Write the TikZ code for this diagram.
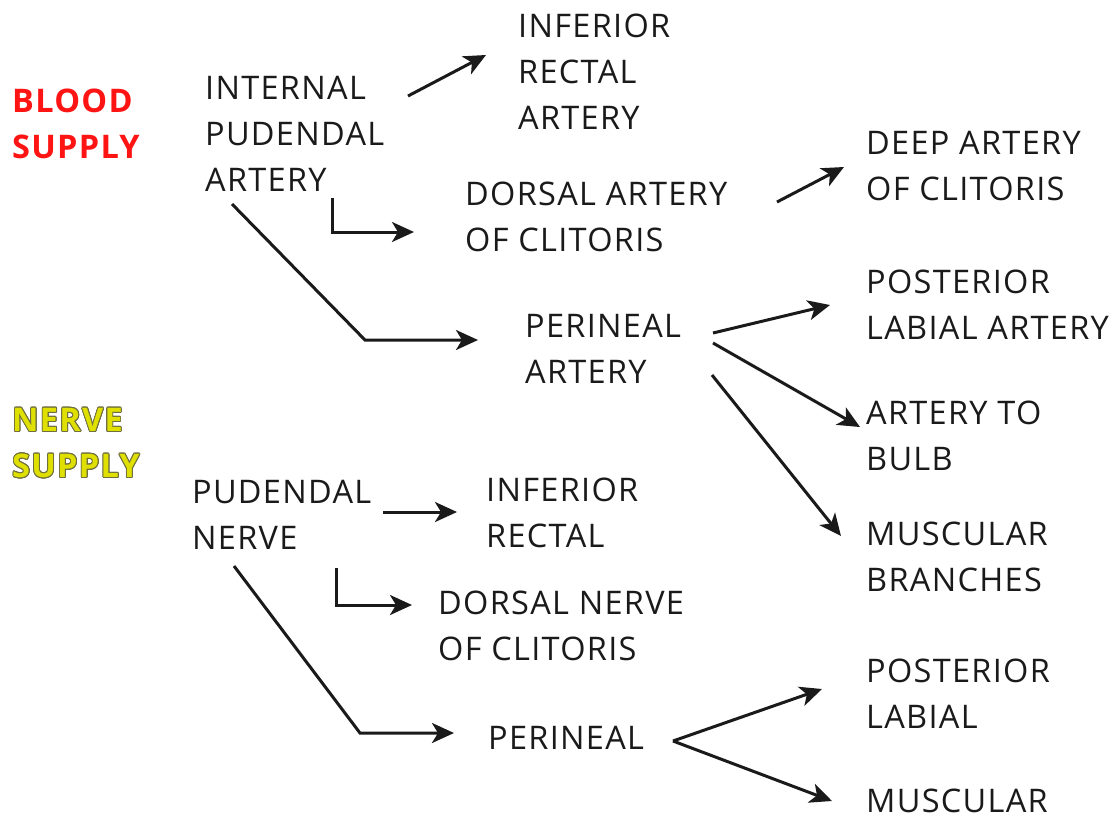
\documentclass[tikz,border=0pt]{standalone}
\usepackage{fontspec}
\setmainfont{Open Sans}[LetterSpace=4]
\usepackage[copies]{contour}
\usetikzlibrary{arrows.meta}
\definecolor{ink}{HTML}{1A1A1A}
\definecolor{bloodred}{HTML}{FF1414}
\definecolor{nerveyel}{HTML}{E0E000}
\definecolor{nerveln}{HTML}{6E6E40}
\contourlength{0.9pt}
\newcommand{\nword}[1]{{\color{nerveyel}\contour{nerveln}{#1}}}
\tikzset{
  every node/.style={font=\fontsize{32.5}{46}\selectfont,text=ink},
  lbl/.style={anchor=north west,align=left,inner sep=0pt},
  head/.style={lbl,font=\fontsize{32.5}{46}\selectfont\bfseries},
  ar/.style={-{Stealth[length=22pt,width=20pt,inset=6pt]},line width=3pt,draw=ink},
}
\begin{document}
\begin{tikzpicture}[x=1pt,y=-1pt]
\useasboundingbox (0,0) rectangle (1119,820);

% ---- headings ----
\node[head,text=bloodred] (blood) at (12,89) {BLOOD\\SUPPLY};
\node[head] (nerve) at (12,408) {\nword{NERVE}\\\nword{SUPPLY}};

% ---- blood supply ----
\node[lbl] (ipa)  at (205,76)  {INTERNAL\\PUDENDAL\\ARTERY};
\node[lbl] (ira)  at (518,14)  {INFERIOR\\RECTAL\\ARTERY};
\node[lbl] (dac)  at (465,182) {DORSAL ARTERY\\OF CLITORIS};
\node[lbl] (deep) at (866,131) {DEEP ARTERY\\OF CLITORIS};
\node[lbl] (pa)   at (525,314) {PERINEAL\\ARTERY};
\node[lbl] (pla)  at (866,270) {POSTERIOR\\LABIAL ARTERY};
\node[lbl] (atb)  at (866,401) {ARTERY TO\\BULB};
\node[lbl] (mb)   at (866,522) {MUSCULAR\\BRANCHES};

\coordinate (ipa-o1) at (408,96);   \coordinate (ira-in) at (486,55);
\coordinate (ipa-o2) at (332,198);  \coordinate (dac-in) at (414,232);
\coordinate (ipa-o3) at (232,204);  \coordinate (pa-in)  at (478,340);
\coordinate (dac-o)  at (777,202);  \coordinate (deep-in) at (844,167);
\coordinate (pa-o1)  at (713,333);  \coordinate (pla-in) at (830,305);
\coordinate (pa-o2)  at (713,343);  \coordinate (atb-in) at (860,427);
\coordinate (pa-o3)  at (712,375);  \coordinate (mb-in)  at (841,536);

\draw[ar] (ipa-o1) -- (ira-in);
\draw[ar] (ipa-o2) |- (dac-in);
\draw[ar] (ipa-o3) -- (365,340) -- (pa-in);
\draw[ar] (dac-o) -- (deep-in);
\draw[ar] (pa-o1) -- (pla-in);
\draw[ar] (pa-o2) -- (atb-in);
\draw[ar] (pa-o3) -- (mb-in);

% ---- nerve supply ----
\node[lbl] (pn)  at (192,480) {PUDENDAL\\NERVE};
\node[lbl] (irn) at (486,478) {INFERIOR\\RECTAL};
\node[lbl] (dnc) at (438,591) {DORSAL NERVE\\OF CLITORIS};
\node[lbl] (pe)  at (488,726) {PERINEAL};
\node[lbl] (pl)  at (866,659) {POSTERIOR\\LABIAL};
\node[lbl] (mu)  at (866,789) {MUSCULAR};

\coordinate (pn-o1) at (383,512);  \coordinate (irn-in) at (457,512);
\coordinate (pn-o2) at (336,568);  \coordinate (dnc-in) at (412,605);
\coordinate (pn-o3) at (234,566);  \coordinate (pe-in)  at (454,733);
\coordinate (pe-o)  at (673,741);  \coordinate (pl-in)  at (822,689);
                                   \coordinate (mu-in)  at (832,801);

\draw[ar] (pn-o1) -- (irn-in);
\draw[ar] (pn-o2) |- (dnc-in);
\draw[ar] (pn-o3) -- (360,733) -- (pe-in);
\draw[ar] (pe-o) -- (pl-in);
\draw[ar] (pe-o) -- (mu-in);

\end{tikzpicture}
\end{document}
